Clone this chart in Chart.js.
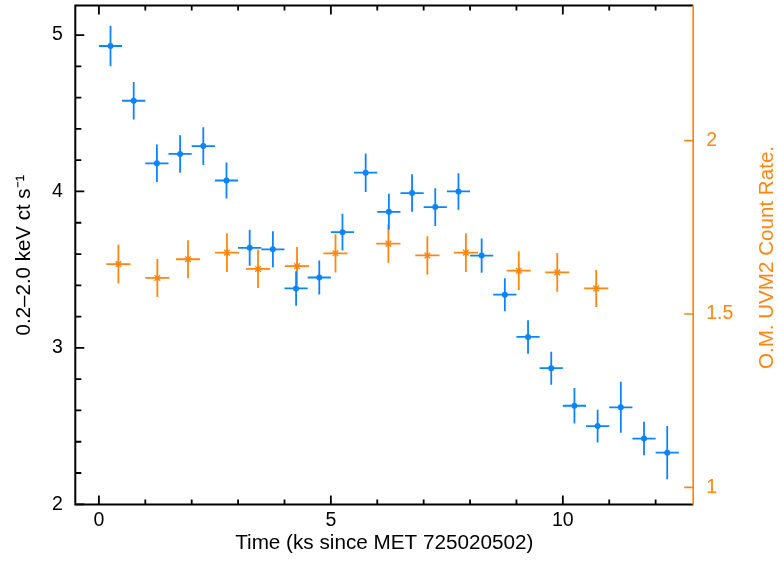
<!DOCTYPE html>
<html>
<head>
<meta charset="utf-8">
<script src="https://cdn.jsdelivr.net/npm/chart.js@4.4.1/dist/chart.umd.min.js"></script>
<style>
  html, body { margin: 0; padding: 0; background: #ffffff; }
  canvas { display: block; }
</style>
</head>
<body>
<canvas id="c" width="778" height="561"></canvas>
<script>
// ---------- data ----------
// X-ray light curve, 0.2-2.0 keV (left axis)
const xrayTime    = [0.25, 0.75, 1.25, 1.75, 2.25, 2.75, 3.25, 3.75, 4.25, 4.75, 5.25, 5.75, 6.25,
                     6.75, 7.25, 7.75, 8.25, 8.75, 9.25, 9.75, 10.25, 10.75, 11.25, 11.75, 12.25];
const xrayTimeErr = [0.25, 0.25, 0.25, 0.25, 0.25, 0.25, 0.25, 0.25, 0.25, 0.25, 0.25, 0.25, 0.25,
                     0.25, 0.25, 0.25, 0.25, 0.25, 0.25, 0.25, 0.25, 0.25, 0.25, 0.25, 0.25];
const xrayRate    = [4.93, 4.58, 4.18, 4.24, 4.29, 4.07, 3.64, 3.63, 3.38, 3.45, 3.74, 4.12, 3.87,
                     3.99, 3.90, 4.00, 3.59, 3.34, 3.07, 2.87, 2.63, 2.50, 2.62, 2.42, 2.33];
const xrayRateErr = [0.13, 0.12, 0.12, 0.12, 0.12, 0.115, 0.115, 0.115, 0.11, 0.108, 0.117, 0.123, 0.115,
                     0.12, 0.12, 0.117, 0.11, 0.105, 0.107, 0.105, 0.113, 0.105, 0.163, 0.107, 0.17];

// O.M. UVM2 count rate (right axis)
const uvTime    = [0.42, 1.26, 1.92, 2.76, 3.43, 4.27, 5.10, 6.24, 7.08, 7.91, 9.05, 9.88, 10.72];
const uvTimeErr = [0.26, 0.26, 0.26, 0.26, 0.26, 0.26, 0.26, 0.26, 0.26, 0.26, 0.26, 0.26, 0.26];
const uvRate    = [1.644, 1.604, 1.658, 1.677, 1.630, 1.638, 1.675, 1.703, 1.669, 1.677, 1.625, 1.620, 1.574];
const uvRateErr = [0.056, 0.055, 0.055, 0.056, 0.055, 0.055, 0.055, 0.055, 0.055, 0.056, 0.056, 0.056, 0.054];

// tick labels
const xTickValues  = [0, 5, 10];
const yTickValues  = [2, 3, 4, 5];
const y2TickValues = [1, 1.5, 2];

const xTitle  = 'Time (ks since MET 725020502)';
const yTitle  = '0.2\u20132.0 keV ct s\u207B\u00B9';
const y2Title = 'O.M. UVM2 Count Rate.';

// ---------- styling ----------
const BLUE = '#0a84ff';
const ORANGE = '#ff8612';
const FONT = '"Liberation Sans", Arial, Helvetica, sans-serif';

const errorBarPlugin = {
  id: 'errorBars',
  beforeDatasetDraw(chart, args) {
    const ds = chart.data.datasets[args.index];
    const eb = ds.errorBars;
    if (!eb) return;
    const xs = chart.scales.x;
    const ys = chart.scales[ds.yAxisID];
    const ctx = chart.ctx;
    ctx.save();
    ctx.strokeStyle = eb.color;
    ctx.lineWidth = eb.width;
    ctx.lineCap = 'butt';
    ds.data.forEach((p, i) => {
      const px = xs.getPixelForValue(p.x);
      const py = ys.getPixelForValue(p.y);
      ctx.beginPath();
      ctx.moveTo(xs.getPixelForValue(p.x - eb.xerr[i]), py);
      ctx.lineTo(xs.getPixelForValue(p.x + eb.xerr[i]), py);
      ctx.moveTo(px, ys.getPixelForValue(p.y - eb.yerr[i]));
      ctx.lineTo(px, ys.getPixelForValue(p.y + eb.yerr[i]));
      ctx.stroke();
    });
    ctx.restore();
  }
};

const framePlugin = {
  id: 'frame',
  afterDraw(chart) {
    const {ctx, chartArea: a, scales} = chart;
    const xs = scales.x, ys = scales.y, y2 = scales.y2;
    ctx.save();
    // black frame: left, bottom, top
    ctx.strokeStyle = '#000';
    ctx.lineWidth = 2;
    ctx.beginPath();
    ctx.moveTo(a.right, a.top); ctx.lineTo(a.left, a.top);
    ctx.lineTo(a.left, a.bottom); ctx.lineTo(a.right, a.bottom);
    ctx.stroke();
    // x ticks (bottom and top, inward)
    ctx.lineWidth = 1.8;
    ctx.beginPath();
    for (let v = Math.ceil(xs.min); v <= xs.max; v += 1) {
      const p = xs.getPixelForValue(v);
      const len = (v % 5 === 0) ? 9 : 5;
      ctx.moveTo(p, a.bottom); ctx.lineTo(p, a.bottom - len);
      ctx.moveTo(p, a.top); ctx.lineTo(p, a.top + len);
    }
    // left y ticks
    for (let k = 10; k * 0.2 <= ys.max + 1e-9; k++) {
      const v = k * 0.2;
      if (v < ys.min - 1e-9) continue;
      const p = ys.getPixelForValue(v);
      const len = (k % 5 === 0) ? 9 : 6;
      ctx.moveTo(a.left, p); ctx.lineTo(a.left + len, p);
    }
    ctx.stroke();
    // right orange axis
    ctx.strokeStyle = ORANGE;
    ctx.lineWidth = 1.7;
    ctx.beginPath();
    ctx.moveTo(a.right, a.top); ctx.lineTo(a.right, a.bottom);
    y2TickValues.forEach(v => {
      const p = y2.getPixelForValue(v);
      ctx.moveTo(a.right, p); ctx.lineTo(a.right - 9, p);
    });
    ctx.stroke();
    // right axis title (reads bottom to top)
    ctx.fillStyle = ORANGE;
    ctx.font = '20.6px ' + FONT;
    ctx.textAlign = 'center';
    ctx.textBaseline = 'middle';
    ctx.translate(767.5, 257.5);
    ctx.rotate(-Math.PI / 2);
    ctx.fillText(y2Title, 0, 0);
    ctx.restore();
  }
};

const noEdgePadding = s => { s.paddingTop = 0; s.paddingBottom = 0; s.paddingLeft = 0; s.paddingRight = 0; };

new Chart(document.getElementById('c'), {
  type: 'scatter',
  data: {
    datasets: [
      {
        label: 'X-ray',
        data: xrayTime.map((t, i) => ({x: t, y: xrayRate[i]})),
        yAxisID: 'y',
        pointStyle: 'circle',
        pointRadius: 3,
        pointBackgroundColor: BLUE,
        pointBorderWidth: 0,
        showLine: false,
        errorBars: {xerr: xrayTimeErr, yerr: xrayRateErr, color: BLUE, width: 1.8}
      },
      {
        label: 'UVM2',
        data: uvTime.map((t, i) => ({x: t, y: uvRate[i]})),
        yAxisID: 'y2',
        pointStyle: 'star',
        pointRadius: 4,
        pointBorderColor: ORANGE,
        pointBackgroundColor: ORANGE,
        pointBorderWidth: 1.3,
        showLine: false,
        errorBars: {xerr: uvTimeErr, yerr: uvRateErr, color: ORANGE, width: 1.8}
      }
    ]
  },
  options: {
    responsive: false,
    animation: false,
    events: [],
    layout: {padding: {top: 5.5, left: 0, right: 0, bottom: 0}},
    plugins: {legend: {display: false}, tooltip: {enabled: false}},
    scales: {
      x: {
        type: 'linear', position: 'bottom', min: -0.509, max: 12.81,
        afterBuildTicks: s => { s.ticks = xTickValues.map(v => ({value: v})); },
        afterFit: s => { s.height = 56.5; noEdgePadding(s); },
        grid: {display: false, drawTicks: false},
        border: {display: false},
        ticks: {color: '#000', font: {family: FONT, size: 19.5}, padding: 4, maxRotation: 0,
                callback: v => String(v)},
        title: {display: true, text: xTitle, color: '#000', font: {family: FONT, size: 20.7},
                padding: {top: 0, bottom: 5}}
      },
      y: {
        type: 'linear', position: 'left', min: 1.9987, max: 5.189,
        afterBuildTicks: s => { s.ticks = yTickValues.map(v => ({value: v})); },
        afterFit: s => { s.width = 75.3; noEdgePadding(s); },
        grid: {display: false, drawTicks: false},
        border: {display: false},
        ticks: {color: '#000', font: {family: FONT, size: 19.5}, padding: 12.5,
                callback: v => String(v)},
        title: {display: true, text: yTitle, color: '#000', font: {family: FONT, size: 20.5},
                padding: {top: 12, bottom: 0}}
      },
      y2: {
        type: 'linear', position: 'right', min: 0.9504, max: 2.39,
        afterBuildTicks: s => { s.ticks = y2TickValues.map(v => ({value: v})); },
        afterFit: s => { s.width = 84.8; noEdgePadding(s); },
        grid: {display: false, drawTicks: false},
        border: {display: false},
        ticks: {color: ORANGE, font: {family: FONT, size: 19.5}, padding: 13,
                callback: v => String(v)},
        title: {display: false}
      }
    }
  },
  plugins: [errorBarPlugin, framePlugin]
});
</script>
</body>
</html>
